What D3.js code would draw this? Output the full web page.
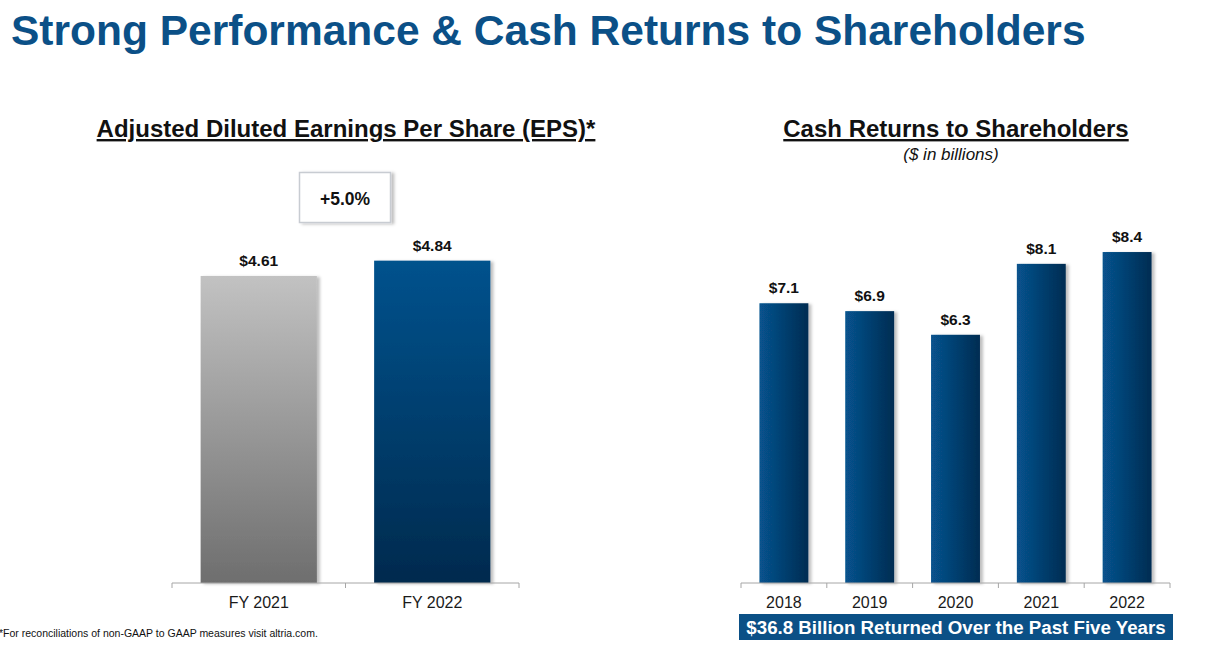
<!DOCTYPE html>
<html>
<head>
<meta charset="utf-8">
<script src="https://cdn.jsdelivr.net/npm/d3@7"></script>
<style>
  body { margin: 0; background: #fff; }
  svg { display: block; font-family: "Liberation Sans", Arial, sans-serif; }
  .tick-lbl { font-size: 16px; fill: #1a1a1a; }
  .val-lbl { font-size: 15.5px; font-weight: bold; fill: #111; text-anchor: middle; }
</style>
</head>
<body>
<div id="chart"></div>
<script>
"use strict";

// EPS chart data
const epsCategories = ["FY 2021", "FY 2022"];
const epsValues = [4.61, 4.84];
const epsLabels = ["$4.61", "$4.84"];
const epsGrowth = "+5.0%";

// cash returns data ($ in billions)
const cashYears = ["2018", "2019", "2020", "2021", "2022"];
const cashValues = [7.1, 6.9, 6.3, 8.1, 8.4];
const cashLabels = ["$7.1", "$6.9", "$6.3", "$8.1", "$8.4"];
const cashTotalText = "$36.8 Billion Returned Over the Past Five Years";

const W = 1213, H = 647;
const baseY = 583;

const svg = d3.select("#chart").append("svg")
  .attr("width", W)
  .attr("height", H);

const defs = svg.append("defs");

function vGrad(id, c0, c1) {
  let g = defs.append("linearGradient").attr("id", id)
    .attr("x1", 0).attr("y1", 0).attr("x2", 0).attr("y2", 1);
  g.append("stop").attr("offset", "0%").attr("stop-color", c0);
  g.append("stop").attr("offset", "100%").attr("stop-color", c1);
}
vGrad("gradGray", "#c2c2c2", "#6e6e6e");
vGrad("gradBlueV", "#02528d", "#022a4e");

let hg = defs.append("linearGradient").attr("id", "gradBlueH")
  .attr("x1", 0).attr("y1", 0).attr("x2", 1).attr("y2", 0);
hg.append("stop").attr("offset", "0%").attr("stop-color", "#07538e");
hg.append("stop").attr("offset", "100%").attr("stop-color", "#032c52");

let sh = defs.append("filter").attr("id", "shadow")
  .attr("x", "-10%").attr("y", "-10%").attr("width", "130%").attr("height", "120%");
sh.append("feDropShadow").attr("dx", 3).attr("dy", 1).attr("stdDeviation", 1.5)
  .attr("flood-color", "#000").attr("flood-opacity", 0.25);

// title
svg.append("text")
  .attr("x", 11).attr("y", 45)
  .style("font-size", "42.5px").style("font-weight", "bold")
  .style("fill", "#0b5087")
  .text("Strong Performance & Cash Returns to Shareholders");

function drawAxis(x, y0) {
  let g = svg.append("g").attr("transform", `translate(0,${y0})`);
  let r = x.range();
  g.append("line")
    .attr("x1", r[0]).attr("x2", r[1])
    .attr("stroke", "#a6a6a6").attr("stroke-width", 1);
  let n = x.domain().length;
  let bounds = d3.range(n + 1).map(i => r[0] + i * x.step());
  g.selectAll("line.bt").data(bounds).join("line")
    .attr("class", "bt")
    .attr("x1", d => d).attr("x2", d => d)
    .attr("y1", 0).attr("y2", 5)
    .attr("stroke", "#a6a6a6");
  g.selectAll("text").data(x.domain()).join("text")
    .attr("class", "tick-lbl")
    .attr("x", d => x(d) + x.bandwidth() / 2)
    .attr("y", 25)
    .attr("text-anchor", "middle")
    .text(d => d);
}

// ---- left chart: EPS ----
const xL = d3.scaleBand().domain(epsCategories).range([172, 519])
  .paddingInner(0.33).paddingOuter(0.165);
const yL = d3.scaleLinear().domain([0, 5]).range([baseY, baseY - 333]);

svg.append("text")
  .attr("x", 346).attr("y", 137)
  .attr("text-anchor", "middle")
  .style("font-size", "24px").style("font-weight", "bold")
  .style("text-decoration", "underline")
  .style("fill", "#111")
  .text("Adjusted Diluted Earnings Per Share (EPS)*");

svg.append("g").selectAll("rect").data(epsValues).join("rect")
  .attr("x", (d, i) => xL(epsCategories[i]))
  .attr("y", d => yL(d))
  .attr("width", xL.bandwidth())
  .attr("height", d => baseY - yL(d))
  .attr("fill", (d, i) => i == 0 ? "url(#gradGray)" : "url(#gradBlueV)")
  .attr("filter", "url(#shadow)");

svg.append("g").selectAll("text").data(epsValues).join("text")
  .attr("class", "val-lbl")
  .attr("x", (d, i) => xL(epsCategories[i]) + xL.bandwidth() / 2)
  .attr("y", d => yL(d) - 10)
  .text((d, i) => epsLabels[i]);

drawAxis(xL, baseY);

// growth box
svg.append("rect")
  .attr("x", 299.5).attr("y", 172.5).attr("width", 91).attr("height", 50)
  .attr("fill", "#fff").attr("stroke", "#c8ccd2").attr("stroke-width", 1.5)
  .attr("filter", "url(#shadow)");
svg.append("text")
  .attr("x", 345).attr("y", 205)
  .attr("text-anchor", "middle")
  .style("font-size", "17.5px").style("font-weight", "bold").style("fill", "#111")
  .text(epsGrowth);

// footnote
svg.append("text")
  .attr("x", -1).attr("y", 637)
  .style("font-size", "10.5px").style("fill", "#111")
  .text("*For reconciliations of non-GAAP to GAAP measures visit altria.com.");

// ---- right chart: cash returns ----
const xR = d3.scaleBand().domain(cashYears).range([741, 1170])
  .paddingInner(0.43).paddingOuter(0.215);
const yR = d3.scaleLinear().domain([0, 9]).range([baseY, baseY - 354.6]);

svg.append("text")
  .attr("x", 956).attr("y", 137)
  .attr("text-anchor", "middle")
  .style("font-size", "24px").style("font-weight", "bold")
  .style("text-decoration", "underline")
  .style("fill", "#111")
  .text("Cash Returns to Shareholders");
svg.append("text")
  .attr("x", 951).attr("y", 160)
  .attr("text-anchor", "middle")
  .style("font-size", "17px").style("font-style", "italic").style("fill", "#111")
  .text("($ in billions)");

svg.append("g").selectAll("rect").data(cashValues).join("rect")
  .attr("x", (d, i) => xR(cashYears[i]))
  .attr("y", d => yR(d))
  .attr("width", xR.bandwidth())
  .attr("height", d => baseY - yR(d))
  .attr("fill", "url(#gradBlueH)")
  .attr("filter", "url(#shadow)");

svg.append("g").selectAll("text").data(cashValues).join("text")
  .attr("class", "val-lbl")
  .attr("x", (d, i) => xR(cashYears[i]) + xR.bandwidth() / 2)
  .attr("y", d => yR(d) - 10)
  .text((d, i) => cashLabels[i]);

drawAxis(xR, baseY);

// banner
svg.append("rect")
  .attr("x", 739).attr("y", 614).attr("width", 434).attr("height", 26)
  .attr("fill", "#0b5086");
svg.append("text")
  .attr("x", 956).attr("y", 634)
  .attr("text-anchor", "middle")
  .style("font-size", "18.7px").style("font-weight", "bold").style("fill", "#fff")
  .text(cashTotalText);
</script>
</body>
</html>
